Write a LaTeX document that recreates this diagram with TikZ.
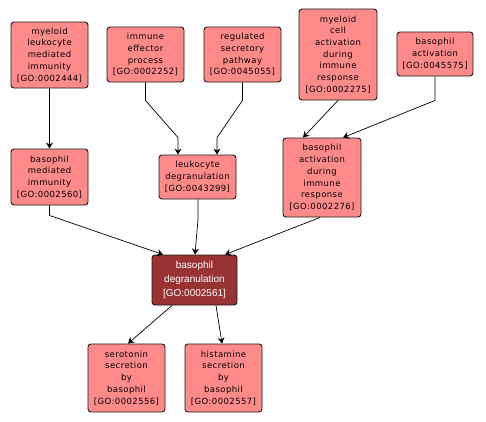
\documentclass[tikz,border=0pt]{standalone}
\usepackage{fontspec}
\setmainfont{DejaVu Sans}
\newfontfamily\lblfont[LetterSpace=5]{DejaVu Sans}
\newfontfamily\darkfont{Liberation Sans}
\usetikzlibrary{arrows.meta,calc}
\definecolor{lightterm}{HTML}{FF8A8A}
\definecolor{darkterm}{HTML}{993333}
\tikzset{
  term/.style={draw=black!90, line width=0.9pt, rounded corners=3pt, fill=lightterm,
    align=center, inner sep=0pt, font=\lblfont\fontsize{8.5}{11.7}\selectfont, text=black},
  focus/.style={term, fill=darkterm, text=white, font=\darkfont\fontsize{10}{14}\selectfont},
  edge/.style={draw=black, line width=0.7pt, -{Stealth[length=6pt,width=7pt,inset=2pt]}}
}
\begin{document}
\begin{tikzpicture}[x=1pt,y=-1pt]
\useasboundingbox (0,0) rectangle (486,421);
\fill[white] (0,0) rectangle (486,421);
\node[term, minimum width=77pt, minimum height=66pt] (mlmi) at (49.5,55) {myeloid\\leukocyte\\mediated\\immunity\\{[GO:0002444]}};
\node[term, minimum width=77pt, minimum height=55pt] (iep) at (145.5,54.5) {immune\\effector\\process\\{[GO:0002252]}};
\node[term, minimum width=77pt, minimum height=55pt] (rsp) at (242.5,54.5) {regulated\\secretory\\pathway\\{[GO:0045055]}};
\node[term, minimum width=78pt, minimum height=91pt] (mcadir) at (338,54.5) {myeloid\\cell\\activation\\during\\immune\\response\\{[GO:0002275]}};
\node[term, minimum width=76pt, minimum height=44pt] (ba) at (435,54) {basophil\\activation\\{[GO:0045575]}};
\node[term, minimum width=77pt, minimum height=56pt] (bmi) at (49.5,177) {basophil\\mediated\\immunity\\{[GO:0002560]}};
\node[term, minimum width=77pt, minimum height=44pt] (ld) at (197.5,177) {leukocyte\\degranulation\\{[GO:0043299]}};
\node[term, minimum width=78pt, minimum height=79pt] (badir) at (322,177.5) {basophil\\activation\\during\\immune\\response\\{[GO:0002276]}};
\node[focus, minimum width=85pt, minimum height=50pt] (bd) at (194.5,280) {basophil\\degranulation\\{[GO:0002561]}};
\node[term, minimum width=77pt, minimum height=68pt] (ssb) at (126.5,378) {serotonin\\secretion\\by\\basophil\\{[GO:0002556]}};
\node[term, minimum width=77pt, minimum height=68pt] (hsb) at (223.5,378) {histamine\\secretion\\by\\basophil\\{[GO:0002557]}};
% edges
\draw[edge] (mlmi.south) -- (bmi.north);
\draw[edge] (iep.south) -- ++(0,18) -- ($(ld.north)+(-19.5,-17)$) -- ($(ld.north)+(-19.5,0)$);
\draw[edge] (rsp.south) -- ++(0,18) -- ($(ld.north)+(19.5,-17)$) -- ($(ld.north)+(19.5,0)$);
\draw[edge] (mcadir.south) -- ($(badir.north)+(-19,0)$);
\draw[edge] (ba.south) -- ++(0,24) -- ($(badir.north)+(21,0)$);
\draw[edge] (bmi.south) -- ++(0,10) -- ($(bd.north)+(-31.5,0)$);
\draw[edge] ($(ld.south)+(0.5,0)$) -- ++(0,20) -- ($(bd.north)+(0.5,0)$);
\draw[edge] ($(badir.south)+(-2,0)$) -- ($(bd.north)+(30.5,0)$);
\draw[edge] ($(bd.south)+(-22.5,0)$) -- ($(ssb.north)+(1.5,0)$);
\draw[edge] ($(bd.south)+(21.5,0)$) -- ($(hsb.north)+(-1.5,0)$);
\end{tikzpicture}
\end{document}
